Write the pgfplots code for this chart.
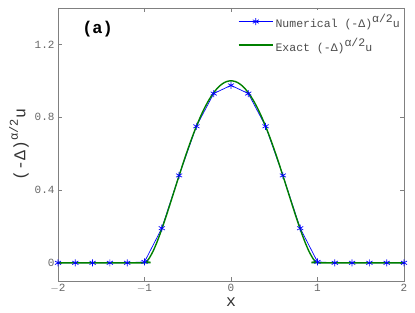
\documentclass[border=0pt]{standalone}
\usepackage{fontspec}
\setmainfont{Liberation Mono}
\setmonofont{Liberation Mono}
\usepackage{pgfplots}
\pgfplotsset{compat=1.18}
\definecolor{mblue}{rgb}{0,0,1}
\definecolor{mgreen}{rgb}{0,0.5,0}
\newcommand{\supr}[1]{\raisebox{0.42em}{#1}}
\newcommand{\legtxt}[1]{\textcolor{black!70}{#1}}
\begin{document}
\begin{tikzpicture}
\begin{axis}[
  scale only axis,
  width=346pt, height=273pt,
  xmin=-2, xmax=2, ymin=-0.1, ymax=1.4,
  xtick={-2,-1,0,1,2},
  ytick={0,0.4,0.8,1.2},
  yticklabels={0,0.4,0.8,1.2},
  xticklabels={$-$2,$-$1,0,1,2},
  tick align=inside,
  major tick length=4pt,
  axis line style={draw=black!50, line width=0.8pt},
  every tick/.style={draw=black!50},
  tick label style={font=\fontsize{11}{12}\selectfont, text=black!60},
  /pgf/number format/assume math mode=true,
  xlabel={x},
  ylabel={(-Δ)\raisebox{0.45em}{\fontsize{12}{13}\selectfont α/2}u},
  label style={font=\fontsize{16.5}{17}\selectfont, text=black!80},
  xlabel style={yshift=2pt},
  ylabel style={yshift=-1pt},
  legend style={at={(1,1)}, anchor=north east, draw=none, fill=white,
    font=\fontsize{11.5}{12}\selectfont, row sep=5pt,
    inner sep=2pt, xshift=0pt, yshift=-2pt},
  legend cell align=left,
  clip=false,
]
\addplot[color=mblue, line width=0.7pt, mark=asterisk, mark size=3.5pt, mark options={color=mblue, line width=0.7pt},
  legend image code/.code={
    \draw[color=mblue, line width=0.7pt] (0cm,0cm) -- (1.2cm,0cm);
    \draw[color=mblue, line width=0.7pt] plot[mark=asterisk, mark size=3.5pt] coordinates {(0.6cm,0cm)};}]
coordinates {
(-2,0) (-1.8,0) (-1.6,0) (-1.4,0) (-1.2,0) (-1,0.005) (-0.8,0.19) (-0.6,0.48)
(-0.4,0.75) (-0.2,0.93) (0,0.975) (0.2,0.93) (0.4,0.75) (0.6,0.48) (0.8,0.19)
(1,0.005) (1.2,0) (1.4,0) (1.6,0) (1.8,0) (2,0)
};
\addlegendentry{\legtxt{Numerical (-Δ)\supr{α/2}u}}
\addplot[color=mgreen, line width=1.4pt, smooth, no marks,
  legend image code/.code={\draw[color=mgreen, line width=1.4pt] (0cm,0cm) -- (1.2cm,0cm);}]
coordinates {
(-2,0) (-1,0) (-0.975,0.0070) (-0.95,0.0215) (-0.9,0.0646) (-0.85,0.1206) (-0.8,0.1853)
(-0.75,0.2556) (-0.7,0.3292) (-0.65,0.4042) (-0.6,0.4788) (-0.55,0.5519) (-0.5,0.6221)
(-0.45,0.6884) (-0.4,0.7500) (-0.35,0.8060) (-0.3,0.8559) (-0.25,0.8990) (-0.2,0.9349)
(-0.15,0.9631) (-0.1,0.9836) (-0.05,0.9959) (0,1) (0.05,0.9959) (0.1,0.9836)
(0.15,0.9631) (0.2,0.9349) (0.25,0.8990) (0.3,0.8559) (0.35,0.8060) (0.4,0.7500)
(0.45,0.6884) (0.5,0.6221) (0.55,0.5519) (0.6,0.4788) (0.65,0.4042) (0.7,0.3292)
(0.75,0.2556) (0.8,0.1853) (0.85,0.1206) (0.9,0.0646) (0.95,0.0215) (0.975,0.0070)
(1,0) (2,0)
};
\addlegendentry{\legtxt{Exact (-Δ)\supr{α/2}u}}
\node[anchor=west, font=\bfseries\fontsize{17}{18}\selectfont] at (rel axis cs:0.06,0.922) {(a)};
\end{axis}
\pgfresetboundingbox
\path ([shift={(-58pt,-32pt)}]current axis.south west) rectangle ([shift={(11pt,8pt)}]current axis.north east);
\end{tikzpicture}
\end{document}
